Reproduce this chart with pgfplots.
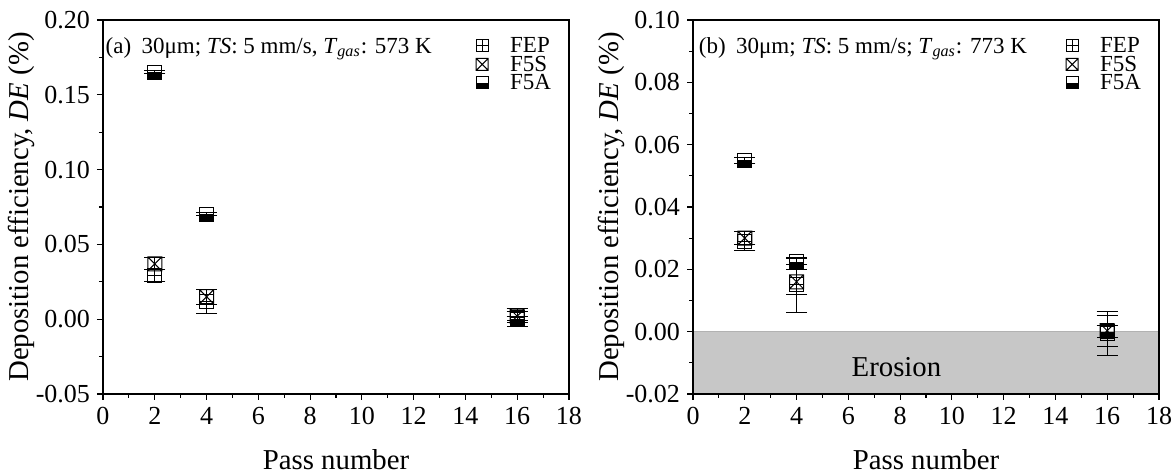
\documentclass[border=0pt]{standalone}
\usepackage{fontspec}
\setmainfont{Liberation Serif}
\usepackage{pgfplots}
\usepackage{pgfplotstable}
\pgfplotsset{compat=1.18}

\pgfdeclareplotmark{sqplus}{%
  \pgfpathrectangle{\pgfqpoint{-\pgfplotmarksize}{-\pgfplotmarksize}}{\pgfqpoint{2\pgfplotmarksize}{2\pgfplotmarksize}}%
  \pgfpathmoveto{\pgfqpoint{-\pgfplotmarksize}{0pt}}\pgfpathlineto{\pgfqpoint{\pgfplotmarksize}{0pt}}%
  \pgfpathmoveto{\pgfqpoint{0pt}{-\pgfplotmarksize}}\pgfpathlineto{\pgfqpoint{0pt}{\pgfplotmarksize}}%
  \pgfusepathqstroke}
\pgfdeclareplotmark{sqcross}{%
  \pgfpathrectangle{\pgfqpoint{-\pgfplotmarksize}{-\pgfplotmarksize}}{\pgfqpoint{2\pgfplotmarksize}{2\pgfplotmarksize}}%
  \pgfpathmoveto{\pgfqpoint{-\pgfplotmarksize}{-\pgfplotmarksize}}\pgfpathlineto{\pgfqpoint{\pgfplotmarksize}{\pgfplotmarksize}}%
  \pgfpathmoveto{\pgfqpoint{-\pgfplotmarksize}{\pgfplotmarksize}}\pgfpathlineto{\pgfqpoint{\pgfplotmarksize}{-\pgfplotmarksize}}%
  \pgfusepathqstroke}
\pgfdeclareplotmark{sqhalf}{%
  \pgfpathrectangle{\pgfqpoint{-\pgfplotmarksize}{-\pgfplotmarksize}}{\pgfqpoint{2\pgfplotmarksize}{\pgfplotmarksize}}%
  \pgfusepathqfill
  \pgfpathrectangle{\pgfqpoint{-\pgfplotmarksize}{-\pgfplotmarksize}}{\pgfqpoint{2\pgfplotmarksize}{2\pgfplotmarksize}}%
  \pgfusepathqstroke}

% panel (a)
\pgfplotstableread{
x y e
2 0.029 0.004
4 0.012 0.008
16 0.001 0.006
}\aFEP
\pgfplotstableread{
x y e
2 0.037 0.004
4 0.015 0.005
16 0.002 0.003
}\aFFS
\pgfplotstableread{
x y e
2 0.165 0.001
4 0.070 0.001
16 0.000 0.002
}\aFFA
% panel (b)
\pgfplotstableread{
x y e
2 0.029 0.003
4 0.015 0.0087
16 -0.0005 0.007
}\bFEP
\pgfplotstableread{
x y e
2 0.030 0.002
4 0.016 0.004
16 0.0003 0.005
}\bFFS
\pgfplotstableread{
x y e
2 0.055 0.001
4 0.0225 0.001
16 0.000 0.002
}\bFFA

\pgfplotsset{
  myax/.style={
    scale only axis, width=233pt, height=187pt,
    xmin=0, xmax=18, xtick={0,2,...,18},
    minor x tick num=1, minor y tick num=1,
    tick align=outside, tick pos=left,
    major tick length=3pt, minor tick length=2pt,
    axis line style={line width=0.75pt},
    every tick/.style={black, line width=0.6pt},
    tick label style={font=\fontsize{13}{15}\selectfont},
    /pgf/number format/assume math mode=true,
    yticklabel style={/pgf/number format/.cd, fixed, fixed zerofill, precision=2},
    xlabel={Pass number},
    ylabel={Deposition efficiency, \textit{DE} (\%)},
    every axis x label/.style={at={(axis description cs:0.5,-0.1765)}, anchor=center, font=\fontsize{14.4}{16}\selectfont},
    every axis y label/.style={at={(axis description cs:-0.174,0.5)}, anchor=center, rotate=90, font=\fontsize{14.4}{16}\selectfont},
    legend style={draw=none, fill=none, at={(axis description cs:0.80,0.957)}, anchor=north west,
      inner sep=0pt, row sep=0pt, font=\fontsize{11.5}{12}\selectfont,
      nodes={inner xsep=2pt, inner ysep=0pt, text height=8pt, text depth=1.3pt},
      /tikz/every odd column/.append style={column sep=9pt}},
    legend image code/.code={\draw[mark repeat=2, mark phase=2, #1, mark size=3pt] plot coordinates {(0cm,0cm) (0.2cm,0cm) (0.4cm,0cm)};},
    legend cell align=left,
    axis on top,
  },
  ser/.style={only marks, mark=#1, mark size=3.5pt, mark options={black, fill=black, line width=0.5pt},
    error bars/.cd, y dir=both, y explicit,
    error mark options={rotate=90, black, mark size=5.25pt, line width=0.5pt},
    error bar style={black, line width=0.5pt}},
}

\begin{document}
\begin{tikzpicture}
\useasboundingbox (0,0) rectangle (587pt,237pt);
\begin{axis}[myax, at={(51.5pt,40pt)}, anchor=south west,
  ymin=-0.05, ymax=0.2, ytick={-0.05,0,0.05,0.1,0.15,0.2}]
\addplot[ser=sqplus] table[x=x, y=y, y error=e] {\aFEP};
\addlegendentry{FEP}
\addplot[ser=sqcross] table[x=x, y=y, y error=e] {\aFFS};
\addlegendentry{F5S}
\addplot[ser=sqhalf] table[x=x, y=y, y error=e] {\aFFA};
\addlegendentry{F5A}
\node[anchor=base west, inner sep=0pt, font=\fontsize{11.5}{13}\selectfont] at (axis description cs:0.005,0.911)
  {(a)\hspace{0.45em}30μm; \textit{TS}: 5 mm/s, \textit{T}\textsubscript{\textit{gas}}: 573 K};
\end{axis}

\begin{axis}[myax, at={(346.5pt,40pt)}, anchor=south west,
  ymin=-0.02, ymax=0.1, ytick={-0.02,0,0.02,0.04,0.06,0.08,0.1}]
\addplot[draw=black!30, line width=0.4pt, fill=black!22, forget plot] coordinates {(0,-0.02) (18,-0.02) (18,0) (0,0)} -- cycle;
\addplot[ser=sqplus] table[x=x, y=y, y error=e] {\bFEP};
\addlegendentry{FEP}
\addplot[ser=sqcross] table[x=x, y=y, y error=e] {\bFFS};
\addlegendentry{F5S}
\addplot[ser=sqhalf] table[x=x, y=y, y error=e] {\bFFA};
\addlegendentry{F5A}
\node[font=\fontsize{14.4}{16}\selectfont] at (axis cs:7.86,-0.0115) {Erosion};
\node[anchor=base west, inner sep=0pt, font=\fontsize{11.5}{13}\selectfont] at (axis description cs:0.012,0.911)
  {(b)\hspace{0.45em}30μm; \textit{TS}: 5 mm/s; \textit{T}\textsubscript{\textit{gas}}: 773 K};
\end{axis}
\end{tikzpicture}
\end{document}
